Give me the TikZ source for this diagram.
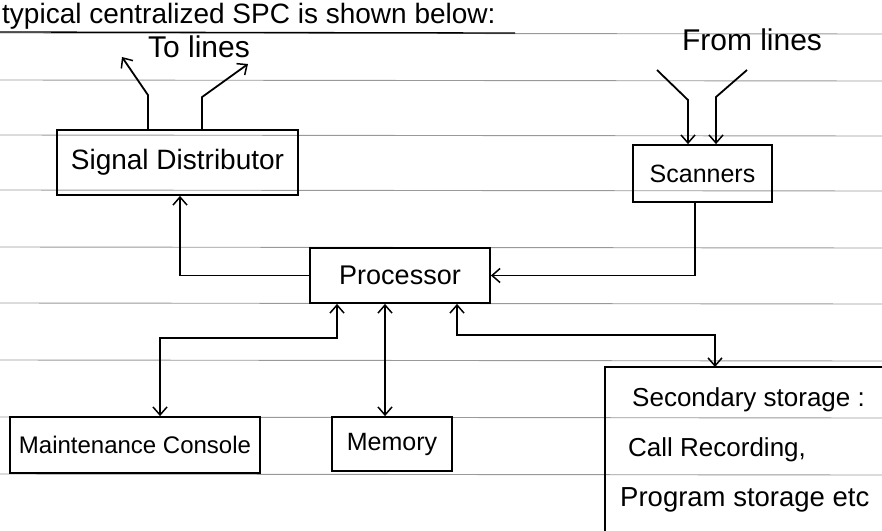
\documentclass[tikz,border=0pt]{standalone}
\usepackage{fontspec}
\setmainfont{Liberation Sans}
\usetikzlibrary{arrows.meta}
\begin{document}
\begin{tikzpicture}[x=1pt,y=-1pt,
  pen/.style={line width=1.8pt,black},
  ruled/.style={line width=0.9pt,black!40},
  tip/.style={-{Straight Barb[length=8pt,width=14pt,line width=1.5pt]}},
  dbl/.style={{Straight Barb[length=8pt,width=14pt,line width=1.5pt]}-{Straight Barb[length=8pt,width=14pt,line width=1.5pt]}},
  box/.style={pen,draw,rectangle,inner sep=0pt,font=\fontsize{24}{28}\selectfont},
  lbl/.style={inner sep=0pt,font=\fontsize{26}{30}\selectfont}]
\useasboundingbox (0,0) rectangle (882,530);
\clip (0,0) rectangle (882,530);
\fill[white] (0,0) rectangle (882,530);
% ruled paper lines
\foreach \yy in {33,80,135,190,247,303,360,417,474}
  \draw[ruled] (0,\yy) -- (882,\yy+1);
% header
\node[inner sep=0pt,anchor=base west,font=\fontsize{28}{32}\selectfont] (head) at (2,23) {typical centralized SPC is shown below:};
\draw[pen,line width=1.3pt] (0,32) -- (515,33);
% boxes
\node[box,minimum width=241pt,minimum height=65pt,font=\fontsize{28}{32}\selectfont] (sig) at (177.5,162.5) {Signal Distributor};
\node[box,minimum width=139pt,minimum height=57pt,font=\fontsize{25}{30}\selectfont] (scan) at (702.5,173.5) {Scanners};
\node[box,minimum width=180pt,minimum height=55pt,font=\fontsize{27}{30}\selectfont] (proc) at (400,275.5) {Processor};
\node[box,minimum width=250pt,minimum height=56pt] (maint) at (135,445) {Maintenance Console};
\node[box,minimum width=120pt,minimum height=54pt,font=\fontsize{25}{30}\selectfont] (mem) at (392,444) {Memory};
\node[pen,draw,rectangle,inner sep=0pt,minimum width=300pt,minimum height=200pt] (sec) at (755,467) {};
\node[lbl,anchor=base west] (sec1) at (632,406) {Secondary storage :};
\node[lbl,anchor=base west] (sec2) at (628,456) {Call Recording,};
\node[lbl,anchor=base west,font=\fontsize{27.5}{30}\selectfont] (sec3) at (620,506) {Program storage etc};
% labels
\node[lbl,font=\fontsize{30}{34}\selectfont] (tolines) at (199,47) {To lines};
\node[lbl,font=\fontsize{30}{34}\selectfont] (fromlines) at (752,40) {From lines};
% free ends
\coordinate (toA) at (122,57);
\coordinate (toB) at (248,64);
\coordinate (frA) at (657,70);
\coordinate (frB) at (747,70);
\coordinate (secin) at (715,367);
% to lines
\draw[pen,tip] ([xshift=-29.5pt]sig.north) -- ++(0,-34) -- (toA);
\draw[pen,tip] ([xshift=24.5pt]sig.north) -- ++(0,-32) -- (toB);
% from lines
\draw[pen,tip] (frA) -- (688,100) -- ([xshift=-14.5pt]scan.north);
\draw[pen,tip] (frB) -- (716,97) -- ([xshift=13.5pt]scan.north);
% processor links
\draw[pen,tip] (proc.west) -| ([xshift=2.5pt]sig.south);
\draw[pen,tip] ([xshift=-7.5pt]scan.south) |- (proc.east);
\draw[pen,dbl] ([xshift=-63pt]proc.south) |- (160,338) -- ([xshift=25pt]maint.north);
\draw[pen,dbl] ([xshift=-15pt]proc.south) -- ([xshift=-7pt]mem.north);
\draw[pen,dbl] ([xshift=57pt]proc.south) |- (715,335) -- (secin);
\end{tikzpicture}
\end{document}
